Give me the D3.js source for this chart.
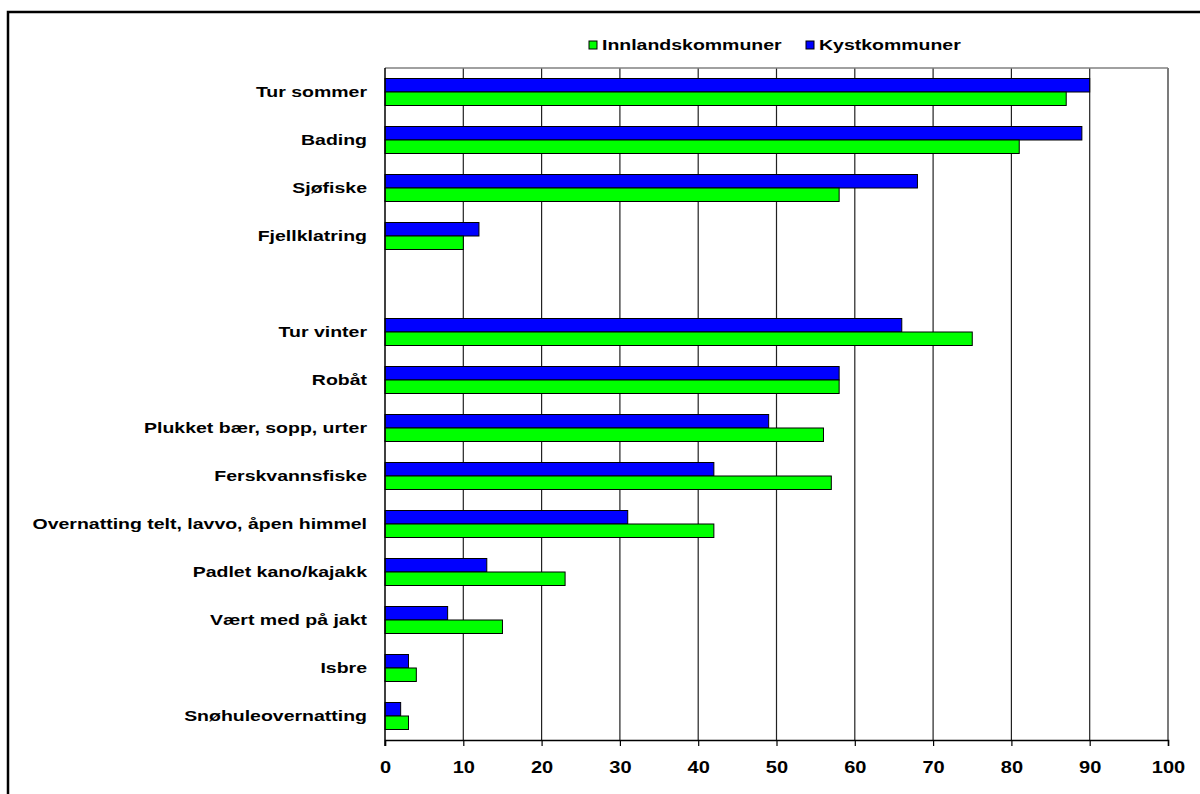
<!DOCTYPE html>
<html><head><meta charset="utf-8">
<script src="https://cdn.jsdelivr.net/npm/d3@7"></script>
<style>
html,body{margin:0;padding:0;background:#fff;overflow:hidden;}
svg{display:block;}
text{font-family:"Liberation Sans",Arial,sans-serif;font-weight:bold;fill:#000;}
</style></head>
<body>
<svg id="chart" width="1200" height="794"></svg>
<script>
const categories = ["Tur sommer","Bading","Sjøfiske","Fjellklatring","","Tur vinter","Robåt","Plukket bær, sopp, urter","Ferskvannsfiske","Overnatting telt, lavvo, åpen himmel","Padlet kano/kajakk","Vært med på jakt","Isbre","Snøhuleovernatting"];
const innland = [87,81,58,10,null,75,58,56,57,42,23,15,4,3];
const kyst    = [90,89,68,12,null,66,58,49,42,31,13,8,3,2];
const seriesNames = ["Innlandskommuner","Kystkommuner"];
const tickValues = [0,10,20,30,40,50,60,70,80,90,100];

(function(){
const svg = d3.select("#chart");
// outer frame (left and top edges visible)
svg.append("path").attr("d","M8,800 L8,12 L1200,12")
  .attr("fill","none").attr("stroke","#000").attr("stroke-width",2.5);

const pL=385,pR=1168,pT=68,pB=740;
const x = d3.scaleLinear().domain([0,100]).range([pL,pR]);
const y = d3.scaleBand().domain(d3.range(categories.length)).range([pT,pB]).paddingInner(0.4375).paddingOuter(0.21875);
const sub = d3.scaleBand().domain(["kyst","innland"]).range([0,y.bandwidth()]);

// gridlines
svg.append("g").selectAll("line").data(tickValues.filter(d=>d>0)).join("line")
  .attr("x1",d=>x(d)).attr("x2",d=>x(d)).attr("y1",pT).attr("y2",pB)
  .attr("stroke","#222").attr("stroke-width",1.2);
// top border gray
svg.append("line").attr("x1",pL).attr("x2",pR).attr("y1",pT).attr("y2",pT).attr("stroke","#808080").attr("stroke-width",1.5);

// bars
const rows = categories.map((c,i)=>({i,c,innland:innland[i],kyst:kyst[i]})).filter(d=>d.innland!=null);
const g = svg.append("g");
g.selectAll("rect.k").data(rows).join("rect").attr("class","k")
  .attr("x",x(0)).attr("y",d=>y(d.i)+sub("kyst")).attr("width",d=>x(d.kyst)-x(0)).attr("height",sub.bandwidth())
  .attr("fill","#0000ff").attr("stroke","#000").attr("stroke-width",1);
g.selectAll("rect.n").data(rows).join("rect").attr("class","n")
  .attr("x",x(0)).attr("y",d=>y(d.i)+sub("innland")).attr("width",d=>x(d.innland)-x(0)).attr("height",sub.bandwidth())
  .attr("fill","#00ff00").attr("stroke","#000").attr("stroke-width",1);

// x axis
const xAxis = d3.axisBottom(x).tickValues(tickValues).tickSize(6).tickPadding(16);
const ax = svg.append("g").attr("transform",`translate(0,${pB})`).call(xAxis);
ax.select(".domain").attr("stroke","#000").attr("stroke-width",1.5);
ax.selectAll(".tick line").attr("stroke","#000").attr("stroke-width",1.2);
ax.selectAll(".tick text").attr("font-size",16).attr("font-family","Liberation Sans, Arial, sans-serif").attr("font-weight","bold").attr("fill","#000")
  .attr("transform","scale(1.25,1)").attr("x",0);

// y axis line
svg.append("line").attr("x1",pL).attr("x2",pL).attr("y1",pT).attr("y2",pB+6).attr("stroke","#000").attr("stroke-width",1.5);

// category labels
svg.append("g").selectAll("text").data(rows).join("text")
  .attr("transform",d=>`translate(367,${y(d.i)+y.bandwidth()/2}) scale(1.3,1)`).attr("dy","0.35em")
  .attr("text-anchor","end").attr("font-size",15).text(d=>d.c);

// legend
const leg = svg.append("g");
const legItems = [{name:seriesNames[0],color:"#00ff00",x:589},{name:seriesNames[1],color:"#0000ff",x:806}];
legItems.forEach(l=>{
  leg.append("rect").attr("x",l.x).attr("y",41).attr("width",8).attr("height",8).attr("fill",l.color).attr("stroke","#000").attr("stroke-width",1);
  leg.append("text").attr("transform",`translate(${l.x+13},50) scale(1.3,1)`).attr("font-size",15).text(l.name);
});
})();
</script>
</body></html>
